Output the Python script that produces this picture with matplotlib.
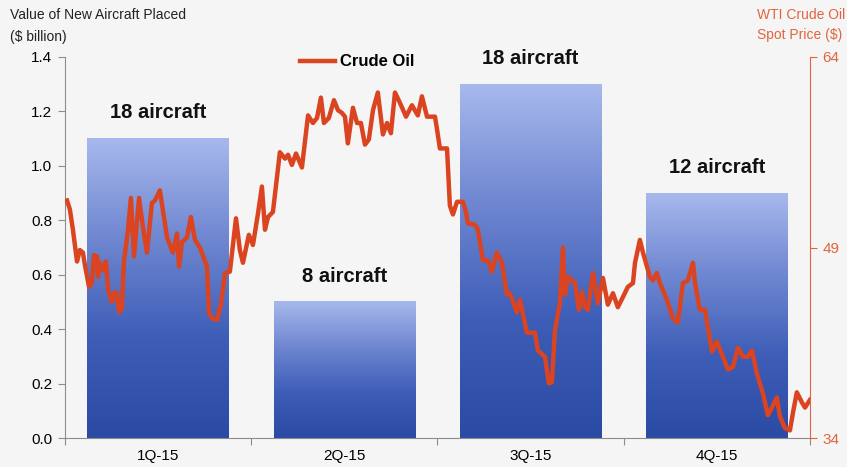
# -*- coding: utf-8 -*-
import numpy as np

import matplotlib
matplotlib.use('Agg')
import matplotlib.pyplot as plt
from matplotlib.colors import LinearSegmentedColormap

### bars: value of new aircraft placed ($ billion)
quarters = ['1Q-15', '2Q-15', '3Q-15', '4Q-15']
values = [1.1, 0.5, 1.3, 0.9]
bar_labels = ['18 aircraft', '8 aircraft', '18 aircraft', '12 aircraft']

### WTI crude oil spot price (day of year, $)
oil_day = [1.0, 2.4, 3.9, 5.9, 7.3, 8.8, 9.8, 11.8, 13.2, 14.2, 15.7, 16.2,
           17.1, 18.6, 20.1, 21.1, 23.0, 24.5, 25.5, 26.5, 27.9, 28.9, 30.9,
           32.3, 33.8, 36.3, 38.2, 40.2, 42.6, 44.1, 46.5, 50.0, 52.9, 54.9,
           55.9, 57.3, 59.8, 61.7, 63.7, 66.1, 69.6, 70.6, 72.5, 74.5, 76.4,
           78.4, 80.8, 83.8, 85.7, 87.2, 90.1, 92.1, 94.6, 96.5, 98.0, 99.5,
           101.9, 105.3, 107.8, 109.3, 111.2, 113.2, 116.1, 119.1, 121.5,
           123.5, 125.4, 126.9, 129.3, 131.8, 133.8, 135.7, 137.2, 138.6,
           141.1, 143.1, 145.0, 147.0, 148.9, 150.9, 153.3, 155.8, 157.8,
           159.7, 161.7, 164.1, 167.1, 170.0, 172.9, 174.9, 177.4, 181.3,
           182.3, 183.7, 187.2, 188.6, 190.1, 192.1, 195.0, 196.5, 197.4,
           200.9, 202.3, 204.8, 207.2, 209.2, 211.6, 214.1, 216.5, 218.0,
           221.4, 222.9, 226.3, 230.3, 231.7, 235.2, 237.1, 238.6, 240.1,
           242.5, 244.0, 245.0, 246.4, 249.9, 251.8, 253.3, 254.8, 256.2,
           258.7, 261.1, 263.6, 266.0, 268.5, 270.9, 273.4, 275.8, 278.3,
           279.3, 281.7, 283.2, 286.6, 288.1, 290.0, 291.5, 294.9, 297.9,
           300.3, 302.8, 305.2, 307.7, 308.7, 311.1, 313.6, 317.0, 319.4,
           321.9, 324.8, 327.3, 329.7, 332.2, 334.6, 336.6, 339.0, 342.0,
           344.4, 346.4, 348.8, 350.3, 352.7, 355.2, 356.7, 358.6, 361.1,
           362.6, 365.0]
oil_price = [52.7, 52.0, 50.4, 47.9, 48.8, 48.6, 47.6, 45.9, 46.2, 48.4, 48.3,
             46.7, 47.8, 47.2, 47.9, 45.7, 44.7, 45.5, 45.4, 43.9, 44.2, 47.9,
             50.4, 52.9, 48.3, 52.9, 50.6, 48.6, 52.5, 52.7, 53.5, 49.8, 48.6,
             50.1, 47.5, 49.4, 49.8, 51.4, 49.6, 49.0, 47.5, 43.8, 43.4, 43.3,
             44.5, 47.0, 47.1, 51.3, 48.8, 47.8, 50.0, 49.2, 51.7, 53.8, 50.4,
             51.4, 51.8, 56.5, 56.0, 56.3, 55.5, 56.4, 55.3, 59.4, 58.8, 59.2,
             60.8, 58.8, 59.2, 60.6, 59.8, 59.6, 59.3, 57.2, 60.0, 58.8, 58.8,
             57.1, 57.5, 59.8, 61.2, 57.9, 58.8, 58.0, 61.2, 60.4, 59.3, 60.2,
             59.4, 60.9, 59.3, 59.3, 58.3, 56.8, 56.8, 52.3, 51.6, 52.6, 52.6,
             51.8, 50.9, 50.8, 50.4, 48.0, 48.0, 47.1, 48.6, 47.8, 45.3, 45.4,
             43.9, 44.9, 42.3, 42.3, 40.9, 40.4, 38.3, 38.4, 42.5, 44.6, 49.0,
             45.3, 46.7, 46.2, 44.1, 45.5, 44.3, 44.1, 47.0, 44.6, 46.6, 44.5,
             45.4, 44.3, 45.1, 45.9, 46.2, 47.8, 49.6, 48.6, 46.7, 46.4, 47.0,
             46.2, 44.9, 43.4, 43.1, 46.2, 46.4, 47.8, 46.2, 44.1, 44.1, 40.8,
             41.6, 40.6, 39.4, 39.6, 41.1, 40.4, 40.4, 40.9, 39.1, 37.5, 35.8,
             36.4, 37.2, 35.7, 34.8, 34.6, 36.0, 37.6, 36.8, 36.4, 37.0]

BG = '#f5f5f5'
OIL = '#da4420'
RAXIS = '#e0653f'
GRID_GREY = '#8c8c8c'


def plot_chart(figname='out.png', dpi=100):
    plt.rcParams['font.family'] = ['Liberation Sans', 'DejaVu Sans']
    fig = plt.figure(figsize=(8.47, 4.67), dpi=dpi, facecolor=BG)
    ax = fig.add_axes([0.0767, 0.062, 0.8795, 0.816])
    ax.set_facecolor(BG)

    ### bars with vertical gradient
    cmap = LinearSegmentedColormap.from_list(
        'bar', ['#2a4aa4', '#3d5db7', '#6f87d1', '#a7b8ec'])
    grad = np.linspace(0, 1, 256).reshape(-1, 1)
    xpos = np.arange(len(quarters)) + 0.5
    width = 0.76
    bars = ax.bar(xpos, values, width=width, color='none', zorder=1)
    for b, lab in zip(bars, bar_labels):
        x0, h = b.get_x(), b.get_height()
        ax.imshow(grad, extent=[x0, x0 + width, 0, h], origin='lower',
                  aspect='auto', cmap=cmap, zorder=1)
        ax.text(x0 + width / 2, h + 0.095, lab, ha='center', va='center',
                fontsize=14.5, fontweight='bold', color='#111111')

    ax.set_xlim(0, 4)
    ax.set_ylim(0, 1.4)
    ax.set_xticks(np.arange(5))
    ax.set_xticklabels([])
    ax.set_xticks(xpos, minor=True)
    ax.set_xticklabels(quarters, minor=True, fontsize=11)
    ax.tick_params(axis='x', which='major', length=5, color=GRID_GREY,
                   direction='out')
    ax.tick_params(axis='x', which='minor', length=0, pad=8)
    ax.set_yticks(np.arange(0, 1.41, 0.2))
    ax.set_yticklabels(['%.1f' % v for v in np.arange(0, 1.41, 0.2)])
    ax.tick_params(axis='y', length=5, color=GRID_GREY, labelsize=11, pad=4)
    for s in ['top', 'right']:
        ax.spines[s].set_visible(False)
    for s in ['left', 'bottom']:
        ax.spines[s].set_color(GRID_GREY)

    ### crude oil on right axis
    ax2 = ax.twinx()
    ax2.plot(np.array(oil_day) / 365. * 4, oil_price, color=OIL, lw=3.2,
             label='Crude Oil', solid_joinstyle='round')
    ax2.set_ylim(34, 64)
    ax2.set_yticks([34, 49, 64])
    ax2.tick_params(axis='y', length=5, color=RAXIS, labelcolor=RAXIS,
                    labelsize=11, pad=4)
    for s in ['top', 'left', 'bottom']:
        ax2.spines[s].set_visible(False)
    ax2.spines['right'].set_color(RAXIS)

    ax2.legend(loc='center', bbox_to_anchor=(0.392, 0.987),
               frameon=False, handlelength=2.1, handletextpad=0.3,
               prop={'weight': 'bold', 'size': 12})

    ### axis titles
    fig.text(10 / 847., 1 - 15 / 467., 'Value of New Aircraft Placed',
             fontsize=10, va='center', color='#222222')
    fig.text(10 / 847., 1 - 37 / 467., '($ billion)',
             fontsize=10, va='center', color='#222222')
    fig.text(757 / 847., 1 - 15 / 467., 'WTI Crude Oil',
             fontsize=10, va='center', color=RAXIS)
    fig.text(757 / 847., 1 - 35 / 467., 'Spot Price ($)',
             fontsize=10, va='center', color=RAXIS)

    fig.savefig(figname, dpi=dpi, facecolor=BG)
    print(" Output", figname)
    return fig


def main():
    plot_chart()


if __name__ == '__main__':
    main()
